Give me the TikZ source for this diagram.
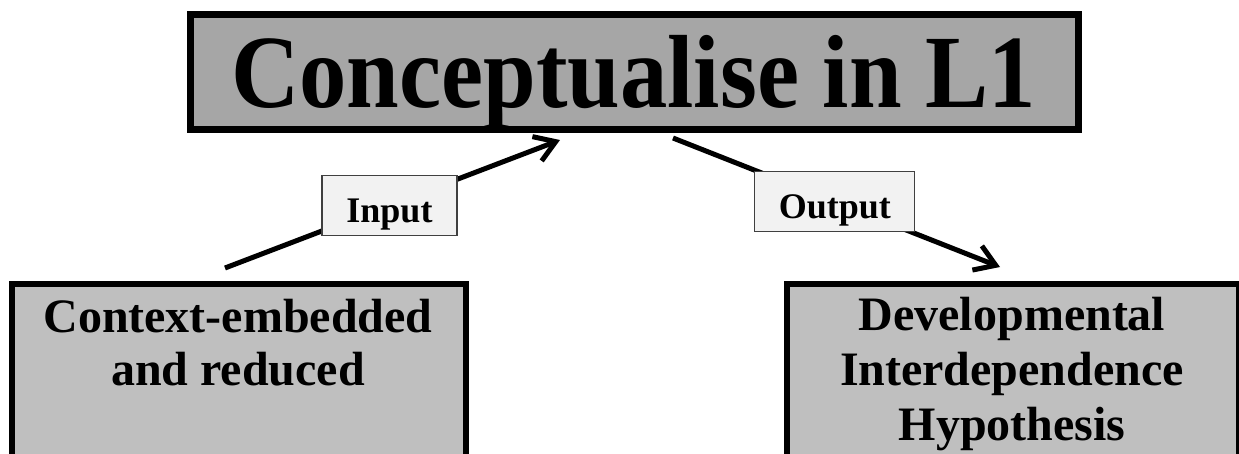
\documentclass[tikz,border=0pt]{standalone}
\usepackage{fontspec}
\setmainfont{Liberation Serif}
\usetikzlibrary{arrows.meta}
\definecolor{topgray}{HTML}{A6A6A6}
\definecolor{boxgray}{HTML}{BFBFBF}
\definecolor{labfill}{HTML}{F2F2F2}
\begin{document}
\begin{tikzpicture}[x=1pt,y=-1pt,
  bigbox/.style={draw=black, line width=7pt, fill=topgray, inner sep=0pt},
  lowbox/.style={draw=black, line width=6pt, fill=boxgray, inner sep=0pt},
  boxtext/.style={anchor=base, align=center, inner sep=0pt},
  lab/.style={draw=black!75, line width=1.2pt, fill=labfill, inner sep=0pt,
    text height=34pt, text depth=0pt, minimum height=60pt,
    font=\bfseries\fontsize{36}{40}\selectfont},
  conn/.style={line width=5pt, -{Straight Barb[length=20pt,width=26pt,line width=5pt]}}]
\clip (0,0) rectangle (1239,453);
% boxes
\node[bigbox, minimum width=888pt, minimum height=115.5pt] (top) at (634.5,71.75) {};
\node[anchor=base, inner sep=0pt, font=\bfseries\fontsize{104}{110}\selectfont] (title) at (633.5,107) {\scalebox{0.91}[1]{Conceptualise in L1}};
\node[lowbox, minimum width=453.5pt, minimum height=186.5pt] (ctx) at (238.75,376.75) {};
\node[boxtext, font=\bfseries\fontsize{48}{53}\selectfont] (ctxtext) at (238,385) {Context-embedded\\and reduced};
\node[lowbox, minimum width=452pt, minimum height=186.5pt] (dih) at (1013,376.75) {};
\node[boxtext, font=\bfseries\fontsize{48}{55}\selectfont] (dihtext) at (1012,440) {Developmental\\Interdependence\\Hypothesis};
% connectors
\coordinate (inS) at (225,268);
\coordinate (inE) at (560,140);
\coordinate (outS) at (673,138);
\coordinate (outE) at (1000,267);
\draw[conn] (inS) -- node[lab, minimum width=135pt, pos=0.491] (inlab) {Input} (inE);
\draw[conn] (outS) -- node[lab, minimum width=160pt, pos=0.495] (outlab) {Output} (outE);
\end{tikzpicture}
\end{document}
